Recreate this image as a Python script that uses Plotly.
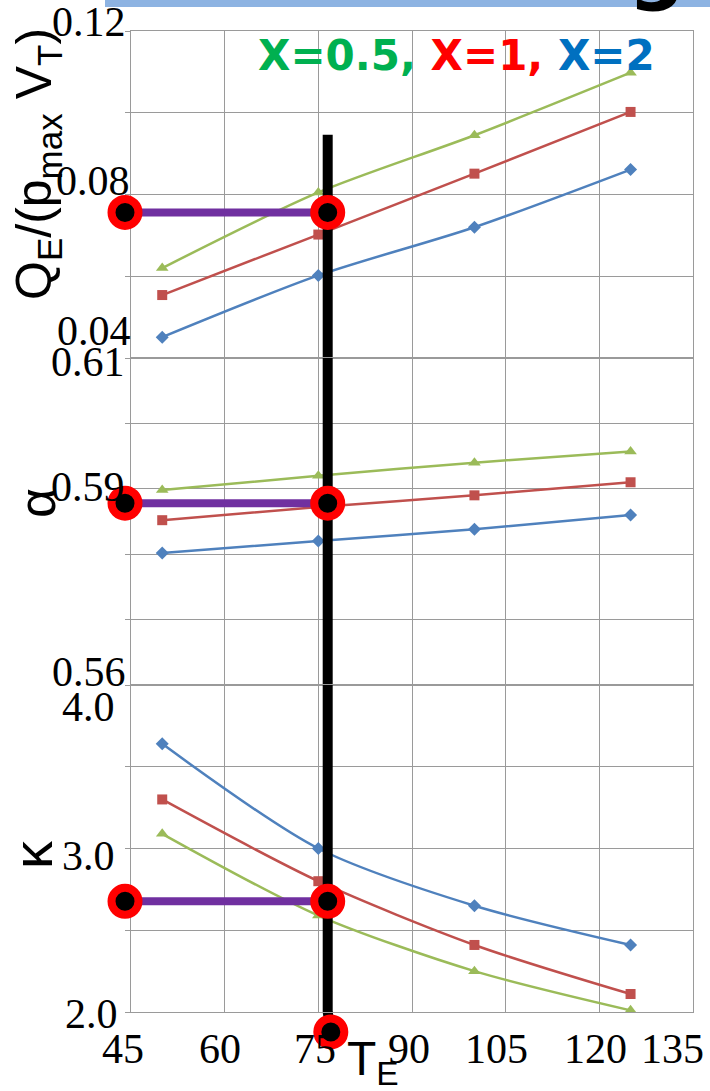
import plotly.graph_objects as go
from plotly.subplots import make_subplots

# ---------------- data ----------------
te = [50, 75, 100, 125]

q_x05 = [0.0620, 0.0805, 0.0945, 0.1098]
q_x1 = [0.0554, 0.0702, 0.0851, 0.1002]
q_x2 = [0.0451, 0.0602, 0.0720, 0.0861]

a_x05 = [0.5898, 0.5920, 0.5940, 0.5957]
a_x1 = [0.5852, 0.5872, 0.5890, 0.5910]
a_x2 = [0.5802, 0.5820, 0.5838, 0.5860]

k_x05 = [3.09, 2.59, 2.25, 2.01]
k_x1 = [3.30, 2.80, 2.41, 2.11]
k_x2 = [3.64, 3.00, 2.65, 2.41]

x_ticks = [45, 60, 75, 90, 105, 120, 135]
x_tick_text = ["45", "60", "75", "90", "105", "120", "135"]
q_ticks = [0.12, 0.08, 0.04]
q_tick_text = ["0.12", "0.08", "0.04"]
a_ticks = [0.61, 0.59, 0.56]
a_tick_text = ["0.61", "0.59", "0.56"]
k_ticks = [4.0, 3.0, 2.0]
k_tick_text = ["4.0", "3.0", "2.0"]

# graphical reading (overlay)
te_read = 76.5
te_left = 44.04
q_read = 0.0756
a_read = 0.5878
k_read = 2.677
q_line_top = 0.0946
te_dot_bottom = 77.0
k_dot_bottom = 1.878

# ---------------- layout constants ----------------
W, H = 710, 1091
ML, MR, MT, MB = 131, 17, 31, 79
x_range = [45, 135]
q_range = [0.04, 0.12]
a_range = [0.56, 0.61]
k_range = [2.0, 4.0]

C05, C1, C2 = "#9bbb59", "#c0504d", "#4f81bd"
GRID = "#9a9a9a"


def px_x(p):
    return (p - ML) / (W - ML - MR)


def px_y(p):
    return (H - MB - p) / (H - MT - MB)


fig = make_subplots(rows=3, cols=1, shared_xaxes=True, vertical_spacing=0)

panels = [
    (1, q_x05, q_x1, q_x2),
    (2, a_x05, a_x1, a_x2),
    (3, k_x05, k_x1, k_x2),
]
for row, s05, s1, s2 in panels:
    for ys, col, sym, size in [(s05, C05, "triangle-up", 11), (s1, C1, "square", 10), (s2, C2, "diamond", 10)]:
        fig.add_trace(go.Scatter(
            x=te, y=ys, mode="lines+markers",
            line=dict(color=col, width=2.5, shape="spline", smoothing=0.8),
            marker=dict(symbol=sym, size=size, color=col),
            hoverinfo="skip"), row=row, col=1)

# overlay: vertical black line segments (one per panel)
seg = [(1, q_line_top, q_range[0]), (2, a_range[1], a_range[0]), (3, k_range[1], k_range[0])]
for row, y0, y1 in seg:
    fig.add_trace(go.Scatter(x=[te_read, te_read], y=[y0, y1], mode="lines",
                             line=dict(color="black", width=10), hoverinfo="skip"),
                  row=row, col=1)

# purple reading lines
for row, val in [(1, q_read), (2, a_read), (3, k_read)]:
    fig.add_trace(go.Scatter(x=[te_left, te_read], y=[val, val], mode="lines",
                             line=dict(color="#7030a0", width=8), hoverinfo="skip"),
                  row=row, col=1)

# connector below the lower axis
k_dom_h = 1.0 / 3.0
bottom_dot_paper = (k_dot_bottom - k_range[0]) / (k_range[1] - k_range[0]) * k_dom_h
fig.add_shape(type="line", xref="x3", yref="paper", x0=te_read, x1=te_dot_bottom,
              y0=0, y1=bottom_dot_paper, line=dict(color="black", width=10), layer="below")

# red-ringed dots (shapes with pixel size so they can sit outside the ranges)
DOT_R = 13.5


def dot(xref, xv, yref, yv):
    fig.add_shape(type="circle", xref=xref, yref=yref,
                  xsizemode="pixel", ysizemode="pixel", xanchor=xv, yanchor=yv,
                  x0=-DOT_R, x1=DOT_R, y0=-DOT_R, y1=DOT_R,
                  fillcolor="black", line=dict(color="#ff0000", width=8), layer="above")


for yref, val in [("y", q_read), ("y2", a_read), ("y3", k_read)]:
    dot("x", te_read, yref, val)
    x_left_paper = (te_left - x_range[0]) / (x_range[1] - x_range[0])
    dot("paper", x_left_paper, yref, val)
dot("x3", te_dot_bottom, "paper", bottom_dot_paper)

# axes
for i in (1, 2, 3):
    fig.update_xaxes(range=x_range, dtick=15, tick0=45, showgrid=True, gridcolor=GRID, gridwidth=1,
                     showline=True, mirror=True, linecolor=GRID, linewidth=1, zeroline=False,
                     showticklabels=False, ticks="", row=i, col=1)
fig.update_yaxes(range=q_range, dtick=0.02, row=1, col=1)
fig.update_yaxes(range=a_range, dtick=0.01, row=2, col=1)
fig.update_yaxes(range=k_range, dtick=0.5, row=3, col=1)
fig.update_yaxes(showgrid=True, gridcolor=GRID, gridwidth=1, showline=True, mirror=True,
                 linecolor=GRID, linewidth=1, zeroline=False, showticklabels=False,
                 ticks="outside", ticklen=5, tickcolor=GRID)

ann = []
SERIF = "Liberation Serif"
SANS = "Liberation Sans"

# y tick labels (pixel nudges to match the original pasted labels)
y_label_sets = [
    ("y", q_ticks, q_tick_text, [(-3, 9), (1, 14), (2, 27)]),
    ("y2", a_ticks, a_tick_text, [(-4, -4), (-4, 2), (-3, 13)]),
    ("y3", k_ticks, k_tick_text, [(-14, -22), (-14, -7), (-11, -2)]),
]
for yref, vals, texts, nudges in y_label_sets:
    for v, t, (dx, dy) in zip(vals, texts, nudges):
        ann.append(dict(xref="paper", x=0, yref=yref, y=v, text=t, showarrow=False,
                        xanchor="right", yanchor="middle", xshift=dx, yshift=dy,
                        font=dict(family=SERIF, size=42, color="black")))

# x tick labels
x_nudges = [-8, -5, -3, -3, -9, -4, -21]
for v, t, dx in zip(x_ticks, x_tick_text, x_nudges):
    ann.append(dict(xref="x3", x=v, yref="y3", y=k_range[0], text=t, showarrow=False,
                    xanchor="center", yanchor="middle", xshift=dx, yshift=-37,
                    font=dict(family=SERIF, size=42, color="black")))

# axis titles
ann.append(dict(xref="paper", x=px_x(345), yref="paper", y=px_y(1062), text="T<sub>E</sub>",
                showarrow=False, xanchor="left", yanchor="middle",
                font=dict(family=SANS, size=48, color="black")))
ann.append(dict(xref="paper", x=px_x(38), yref="paper", y=px_y(164),
                text="Q<sub>E</sub>/(p<sub>max</sub> V<sub>T</sub>)", textangle=-90,
                showarrow=False, xanchor="center", yanchor="middle",
                font=dict(family=SANS, size=50, color="black")))
ann.append(dict(xref="paper", x=px_x(37), yref="paper", y=px_y(503), text="α", textangle=-90,
                showarrow=False, xanchor="center", yanchor="middle",
                font=dict(family=SANS, size=52, color="black")))
ann.append(dict(xref="paper", x=px_x(32), yref="paper", y=px_y(855), text="κ", textangle=-90,
                showarrow=False, xanchor="center", yanchor="middle",
                font=dict(family=SANS, size=56, color="black")))

# legend text
ann.append(dict(xref="paper", x=px_x(256), yref="paper", y=px_y(55),
                text='<span style="color:#00b050">X=0.5,</span> '
                     '<span style="color:#ff0000">X=1,</span> '
                     '<span style="color:#0070c0">X=2</span>',
                showarrow=False, xanchor="left", yanchor="middle",
                font=dict(family="DejaVu Sans", size=42, weight="bold")))

# header remnants
ann.append(dict(xref="paper", x=px_x(656), yref="paper", y=px_y(15), text="g",
                showarrow=False, xanchor="center", yanchor="bottom",
                font=dict(family="DejaVu Sans", size=80, color="black", weight="bold")))

fig.add_shape(type="rect", xref="paper", yref="paper", x0=px_x(105), x1=px_x(712),
              y0=px_y(7), y1=px_y(-2), fillcolor="#8db3e2", line=dict(width=0), layer="below")

fig.update_layout(width=W, height=H, margin=dict(l=ML, r=MR, t=MT, b=MB),
                  paper_bgcolor="white", plot_bgcolor="white", showlegend=False,
                  annotations=ann)

fig.write_html("out.html", config={"displayModeBar": False},
               post_script="document.body.style.margin='0';document.body.style.padding='0';")
